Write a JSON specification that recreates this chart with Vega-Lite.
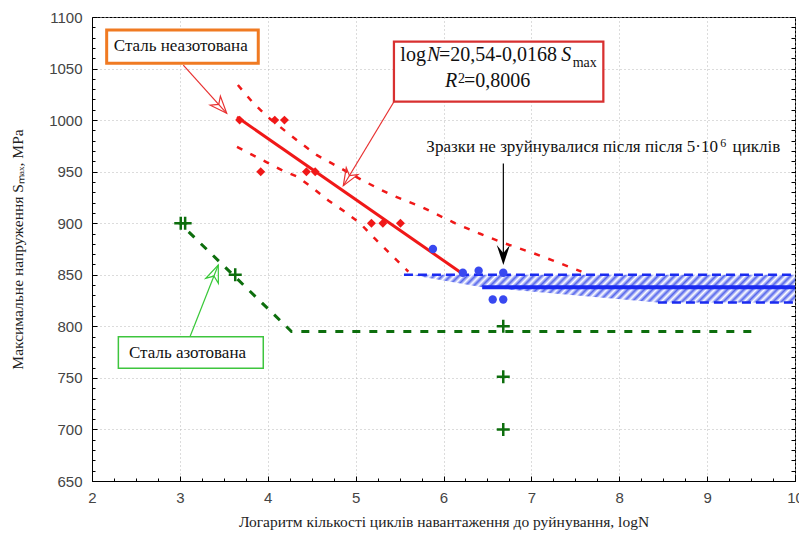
{
  "$schema": "https://vega.github.io/schema/vega-lite/v6.json",
  "width": 703,
  "height": 464,
  "autosize": {"type": "none"},
  "padding": {"left": 92, "top": 17, "right": 4, "bottom": 52},
  "background": "white",
  "config": {
    "view": {"stroke": "#000000", "strokeWidth": 1},
    "axis": {"domainColor": "#000000", "tickColor": "#000000", "labelFont": "Liberation Sans", "labelFontSize": 15, "labelColor": "#444444"}
  },
  "datasets": {
    "band": [
      {"logN": 5.62, "top": 850, "bottom": 850},
      {"logN": 6.44, "top": 850, "bottom": 838},
      {"logN": 8.44, "top": 850, "bottom": 823},
      {"logN": 10, "top": 850, "bottom": 823}
    ],
    "lines": [
      {"series": "fit", "ord": 1, "logN": 3.65, "S": 1003},
      {"series": "fit", "ord": 2, "logN": 6.2, "S": 852},
      {"series": "upper", "ord": 1, "logN": 3.66, "S": 1034},
      {"series": "upper", "ord": 2, "logN": 3.83, "S": 1017},
      {"series": "upper", "ord": 3, "logN": 4.0, "S": 1003},
      {"series": "upper", "ord": 4, "logN": 4.22, "S": 988},
      {"series": "upper", "ord": 5, "logN": 4.37, "S": 978},
      {"series": "upper", "ord": 6, "logN": 4.56, "S": 966},
      {"series": "upper", "ord": 7, "logN": 4.73, "S": 958},
      {"series": "upper", "ord": 8, "logN": 5.07, "S": 942},
      {"series": "upper", "ord": 9, "logN": 5.25, "S": 934},
      {"series": "upper", "ord": 10, "logN": 5.42, "S": 927},
      {"series": "upper", "ord": 11, "logN": 5.77, "S": 915},
      {"series": "upper", "ord": 12, "logN": 6.13, "S": 900},
      {"series": "upper", "ord": 13, "logN": 6.41, "S": 890},
      {"series": "upper", "ord": 14, "logN": 6.68, "S": 881},
      {"series": "upper", "ord": 15, "logN": 7.02, "S": 871},
      {"series": "upper", "ord": 16, "logN": 7.24, "S": 864},
      {"series": "upper", "ord": 17, "logN": 7.57, "S": 853},
      {"series": "lower", "ord": 1, "logN": 3.65, "S": 974},
      {"series": "lower", "ord": 2, "logN": 3.83, "S": 966},
      {"series": "lower", "ord": 3, "logN": 3.99, "S": 959},
      {"series": "lower", "ord": 4, "logN": 4.17, "S": 951},
      {"series": "lower", "ord": 5, "logN": 4.34, "S": 945},
      {"series": "lower", "ord": 6, "logN": 4.5, "S": 935},
      {"series": "lower", "ord": 7, "logN": 4.69, "S": 922},
      {"series": "lower", "ord": 8, "logN": 4.88, "S": 911},
      {"series": "lower", "ord": 9, "logN": 5.05, "S": 900},
      {"series": "lower", "ord": 10, "logN": 5.22, "S": 885},
      {"series": "lower", "ord": 11, "logN": 5.41, "S": 869},
      {"series": "lower", "ord": 12, "logN": 5.6, "S": 853},
      {"series": "green", "ord": 1, "logN": 3.1, "S": 891.6},
      {"series": "green", "ord": 2, "logN": 4.27, "S": 795},
      {"series": "green", "ord": 3, "logN": 9.55, "S": 795},
      {"series": "blue_upper", "ord": 1, "logN": 5.55, "S": 850},
      {"series": "blue_upper", "ord": 2, "logN": 10, "S": 850},
      {"series": "blue_lower", "ord": 1, "logN": 8.44, "S": 823},
      {"series": "blue_lower", "ord": 2, "logN": 10, "S": 823},
      {"series": "blue_mid", "ord": 1, "logN": 6.44, "S": 838},
      {"series": "blue_mid", "ord": 2, "logN": 10, "S": 838}
    ],
    "red_pts": [
      {"logN": 3.68, "S": 1000}, {"logN": 4.08, "S": 1000}, {"logN": 4.19, "S": 1000},
      {"logN": 3.92, "S": 950}, {"logN": 4.44, "S": 950}, {"logN": 4.54, "S": 950},
      {"logN": 5.18, "S": 900}, {"logN": 5.31, "S": 900}, {"logN": 5.51, "S": 900}
    ],
    "blue_pts": [
      {"logN": 5.88, "S": 875}, {"logN": 6.22, "S": 852}, {"logN": 6.4, "S": 854},
      {"logN": 6.68, "S": 852}, {"logN": 6.56, "S": 826}, {"logN": 6.68, "S": 826}
    ],
    "green_pts": [
      {"logN": 3.01, "S": 900}, {"logN": 3.06, "S": 900}, {"logN": 3.63, "S": 850},
      {"logN": 6.68, "S": 800}, {"logN": 6.68, "S": 751}, {"logN": 6.68, "S": 700}
    ],
    "arrows": [
      {"series": "red1", "ord": 1, "logN": 3.039, "S": 1053.4},
      {"series": "red1", "ord": 2, "logN": 3.533, "S": 1006.6},
      {"series": "red2", "ord": 1, "logN": 5.448, "S": 1019.5},
      {"series": "red2", "ord": 2, "logN": 4.86, "S": 936.4},
      {"series": "green", "ord": 1, "logN": 3.115, "S": 789.9},
      {"series": "green", "ord": 2, "logN": 3.437, "S": 859.5},
      {"series": "black", "ord": 1, "logN": 6.681, "S": 958},
      {"series": "black", "ord": 2, "logN": 6.681, "S": 870}
    ],
    "boxes": [
      {"box": "orange", "logN": 2.167, "logN2": 3.892, "S": 1087.4, "S2": 1055.1},
      {"box": "eq", "logN": 5.436, "logN2": 7.819, "S": 1076, "S2": 1017.9},
      {"box": "green", "logN": 2.3, "logN2": 3.949, "S": 789.9, "S2": 759.3}
    ]
  },
  "layer": [
    {
      "layer": [
        {
          "data": {"name": "band"},
          "mark": {
            "type": "area",
            "fill": {
              "gradient": "linear", "x1": 0, "y1": 0, "x2": 1.0722, "y2": 0.0774,
              "stops": [
                {"offset": 0.00, "color": "#5566ec"}, {"offset": 0.01, "color": "#ffffff"},
                {"offset": 0.02, "color": "#5566ec"}, {"offset": 0.03, "color": "#ffffff"},
                {"offset": 0.04, "color": "#5566ec"}, {"offset": 0.05, "color": "#ffffff"},
                {"offset": 0.06, "color": "#5566ec"}, {"offset": 0.07, "color": "#ffffff"},
                {"offset": 0.08, "color": "#5566ec"}, {"offset": 0.09, "color": "#ffffff"},
                {"offset": 0.10, "color": "#5566ec"}, {"offset": 0.11, "color": "#ffffff"},
                {"offset": 0.12, "color": "#5566ec"}, {"offset": 0.13, "color": "#ffffff"},
                {"offset": 0.14, "color": "#5566ec"}, {"offset": 0.15, "color": "#ffffff"},
                {"offset": 0.16, "color": "#5566ec"}, {"offset": 0.17, "color": "#ffffff"},
                {"offset": 0.18, "color": "#5566ec"}, {"offset": 0.19, "color": "#ffffff"},
                {"offset": 0.20, "color": "#5566ec"}, {"offset": 0.21, "color": "#ffffff"},
                {"offset": 0.22, "color": "#5566ec"}, {"offset": 0.23, "color": "#ffffff"},
                {"offset": 0.24, "color": "#5566ec"}, {"offset": 0.25, "color": "#ffffff"},
                {"offset": 0.26, "color": "#5566ec"}, {"offset": 0.27, "color": "#ffffff"},
                {"offset": 0.28, "color": "#5566ec"}, {"offset": 0.29, "color": "#ffffff"},
                {"offset": 0.30, "color": "#5566ec"}, {"offset": 0.31, "color": "#ffffff"},
                {"offset": 0.32, "color": "#5566ec"}, {"offset": 0.33, "color": "#ffffff"},
                {"offset": 0.34, "color": "#5566ec"}, {"offset": 0.35, "color": "#ffffff"},
                {"offset": 0.36, "color": "#5566ec"}, {"offset": 0.37, "color": "#ffffff"},
                {"offset": 0.38, "color": "#5566ec"}, {"offset": 0.39, "color": "#ffffff"},
                {"offset": 0.40, "color": "#5566ec"}, {"offset": 0.41, "color": "#ffffff"},
                {"offset": 0.42, "color": "#5566ec"}, {"offset": 0.43, "color": "#ffffff"},
                {"offset": 0.44, "color": "#5566ec"}, {"offset": 0.45, "color": "#ffffff"},
                {"offset": 0.46, "color": "#5566ec"}, {"offset": 0.47, "color": "#ffffff"},
                {"offset": 0.48, "color": "#5566ec"}, {"offset": 0.49, "color": "#ffffff"},
                {"offset": 0.50, "color": "#5566ec"}, {"offset": 0.51, "color": "#ffffff"},
                {"offset": 0.52, "color": "#5566ec"}, {"offset": 0.53, "color": "#ffffff"},
                {"offset": 0.54, "color": "#5566ec"}, {"offset": 0.55, "color": "#ffffff"},
                {"offset": 0.56, "color": "#5566ec"}, {"offset": 0.57, "color": "#ffffff"},
                {"offset": 0.58, "color": "#5566ec"}, {"offset": 0.59, "color": "#ffffff"},
                {"offset": 0.60, "color": "#5566ec"}, {"offset": 0.61, "color": "#ffffff"},
                {"offset": 0.62, "color": "#5566ec"}, {"offset": 0.63, "color": "#ffffff"},
                {"offset": 0.64, "color": "#5566ec"}, {"offset": 0.65, "color": "#ffffff"},
                {"offset": 0.66, "color": "#5566ec"}, {"offset": 0.67, "color": "#ffffff"},
                {"offset": 0.68, "color": "#5566ec"}, {"offset": 0.69, "color": "#ffffff"},
                {"offset": 0.70, "color": "#5566ec"}, {"offset": 0.71, "color": "#ffffff"},
                {"offset": 0.72, "color": "#5566ec"}, {"offset": 0.73, "color": "#ffffff"},
                {"offset": 0.74, "color": "#5566ec"}, {"offset": 0.75, "color": "#ffffff"},
                {"offset": 0.76, "color": "#5566ec"}, {"offset": 0.77, "color": "#ffffff"},
                {"offset": 0.78, "color": "#5566ec"}, {"offset": 0.79, "color": "#ffffff"},
                {"offset": 0.80, "color": "#5566ec"}, {"offset": 0.81, "color": "#ffffff"},
                {"offset": 0.82, "color": "#5566ec"}, {"offset": 0.83, "color": "#ffffff"},
                {"offset": 0.84, "color": "#5566ec"}, {"offset": 0.85, "color": "#ffffff"},
                {"offset": 0.86, "color": "#5566ec"}, {"offset": 0.87, "color": "#ffffff"},
                {"offset": 0.88, "color": "#5566ec"}, {"offset": 0.89, "color": "#ffffff"},
                {"offset": 0.90, "color": "#5566ec"}, {"offset": 0.91, "color": "#ffffff"},
                {"offset": 0.92, "color": "#5566ec"}, {"offset": 0.93, "color": "#ffffff"},
                {"offset": 0.94, "color": "#5566ec"}, {"offset": 0.95, "color": "#ffffff"},
                {"offset": 0.96, "color": "#5566ec"}, {"offset": 0.97, "color": "#ffffff"},
                {"offset": 0.98, "color": "#5566ec"}, {"offset": 0.99, "color": "#ffffff"},
                {"offset": 1.00, "color": "#5566ec"}
              ]
            }
          },
          "encoding": {
            "x": {
              "field": "logN", "type": "quantitative",
              "scale": {"domain": [2, 10], "nice": false, "zero": false},
              "axis": {
                "orient": "bottom",
                "title": "Логаритм кількості циклів навантаження до руйнування, logN",
                "titleFont": "Liberation Serif", "titleFontSize": 15.5, "titleFontWeight": "normal", "titleColor": "#222222",
                "values": [2,2.25,2.5,2.75,3,3.25,3.5,3.75,4,4.25,4.5,4.75,5,5.25,5.5,5.75,6,6.25,6.5,6.75,7,7.25,7.5,7.75,8,8.25,8.5,8.75,9,9.25,9.5,9.75,10],
                "tickCount": 1000,
                "labelExpr": "datum.value % 1 === 0 ? format(datum.value, 'd') : ''",
                "labelOverlap": false, "labelFlush": false, "labelPadding": 14,
                "grid": true, "gridColor": "#b8b8b8", "gridDash": [1, 3],
                "gridOpacity": {"condition": {"test": "datum.value % 1 === 0", "value": 1}, "value": 0},
                "tickSize": {"condition": {"test": "datum.value % 1 === 0", "value": -5}, "value": -3},
                "titlePadding": 7
              }
            },
            "y": {
              "field": "top", "type": "quantitative",
              "scale": {"domain": [650, 1100], "nice": false, "zero": false},
              "axis": {
                "orient": "left",
                "title": "Максимальне напруження Sₘₐₓ, MPa",
                "titleFont": "Liberation Serif", "titleFontSize": 15.5, "titleFontWeight": "normal", "titleColor": "#222222",
                "values": [650,660,670,680,690,700,710,720,730,740,750,760,770,780,790,800,810,820,830,840,850,860,870,880,890,900,910,920,930,940,950,960,970,980,990,1000,1010,1020,1030,1040,1050,1060,1070,1080,1090,1100],
                "tickCount": 1000,
                "labelExpr": "datum.value % 50 === 0 ? format(datum.value, 'd') : ''",
                "labelOverlap": false, "labelFlush": false, "labelPadding": 15,
                "grid": true, "gridColor": "#b8b8b8", "gridDash": [1, 3],
                "gridOpacity": {"condition": {"test": "datum.value % 50 === 0", "value": 1}, "value": 0},
                "tickSize": {"condition": {"test": "datum.value % 50 === 0", "value": -5}, "value": -3},
                "titlePadding": 23
              }
            },
            "y2": {"field": "bottom"}
          }
        },
        {
          "data": {"name": "lines"},
          "transform": [{"filter": "datum.series === 'fit'"}],
          "mark": {"type": "line", "color": "#f01818", "strokeWidth": 3},
          "encoding": {
            "x": {"field": "logN", "type": "quantitative"},
            "y": {"field": "S", "type": "quantitative"},
            "order": {"field": "ord"}
          }
        },
        {
          "data": {"name": "lines"},
          "transform": [{"filter": "datum.series === 'upper' || datum.series === 'lower'"}],
          "mark": {"type": "line", "color": "#f01818", "strokeWidth": 2.5, "strokeDash": [6, 9]},
          "encoding": {
            "x": {"field": "logN", "type": "quantitative"},
            "y": {"field": "S", "type": "quantitative"},
            "detail": {"field": "series"},
            "order": {"field": "ord"}
          }
        },
        {
          "data": {"name": "lines"},
          "transform": [{"filter": "datum.series === 'green'"}],
          "mark": {"type": "line", "color": "#0d6e0d", "strokeWidth": 3, "strokeDash": [8, 9]},
          "encoding": {
            "x": {"field": "logN", "type": "quantitative"},
            "y": {"field": "S", "type": "quantitative"},
            "order": {"field": "ord"}
          }
        },
        {
          "data": {"name": "lines"},
          "transform": [{"filter": "datum.series === 'blue_upper' || datum.series === 'blue_lower'"}],
          "mark": {"type": "line", "color": "#1a2af0", "strokeWidth": 2.5, "strokeDash": [9, 5]},
          "encoding": {
            "x": {"field": "logN", "type": "quantitative"},
            "y": {"field": "S", "type": "quantitative"},
            "detail": {"field": "series"},
            "order": {"field": "ord"}
          }
        },
        {
          "data": {"name": "lines"},
          "transform": [{"filter": "datum.series === 'blue_mid'"}],
          "mark": {"type": "line", "color": "#1a2af0", "strokeWidth": 4},
          "encoding": {
            "x": {"field": "logN", "type": "quantitative"},
            "y": {"field": "S", "type": "quantitative"},
            "order": {"field": "ord"}
          }
        },
        {
          "data": {"name": "red_pts"},
          "mark": {"type": "point", "shape": "diamond", "filled": true, "color": "#f01818", "size": 80, "opacity": 1},
          "encoding": {
            "x": {"field": "logN", "type": "quantitative"},
            "y": {"field": "S", "type": "quantitative"}
          }
        },
        {
          "data": {"name": "blue_pts"},
          "mark": {"type": "point", "shape": "circle", "filled": true, "color": "#3848f0", "size": 70, "opacity": 1},
          "encoding": {
            "x": {"field": "logN", "type": "quantitative"},
            "y": {"field": "S", "type": "quantitative"}
          }
        },
        {
          "data": {"name": "green_pts"},
          "mark": {"type": "point", "shape": "M-1,0L1,0M0,-1L0,1", "filled": false, "stroke": "#0d6e0d", "strokeWidth": 2.5, "size": 169, "opacity": 1},
          "encoding": {
            "x": {"field": "logN", "type": "quantitative"},
            "y": {"field": "S", "type": "quantitative"}
          }
        },
        {
          "data": {"name": "arrows"},
          "mark": {"type": "line", "strokeWidth": 1.2},
          "encoding": {
            "x": {"field": "logN", "type": "quantitative"},
            "y": {"field": "S", "type": "quantitative"},
            "detail": {"field": "series"},
            "order": {"field": "ord"},
            "color": {"field": "series", "type": "nominal", "scale": {"domain": ["red1", "red2", "green", "black"], "range": ["#e83030", "#e83030", "#38c838", "#000000"]}, "legend": null}
          }
        },
        {
          "data": {"values": [{"logN": 3.533, "S": 1006.6}]},
          "mark": {"type": "point", "shape": "M0,0L0.4,1L0,0.7L-0.4,1Z", "size": 1156, "angle": 138, "filled": false, "stroke": "#e83030", "strokeWidth": 1.2, "opacity": 1},
          "encoding": {"x": {"field": "logN", "type": "quantitative"}, "y": {"field": "S", "type": "quantitative"}}
        },
        {
          "data": {"values": [{"logN": 4.86, "S": 936.4}]},
          "mark": {"type": "point", "shape": "M0,0L0.4,1L0,0.7L-0.4,1Z", "size": 1156, "angle": 211, "filled": false, "stroke": "#e83030", "strokeWidth": 1.2, "opacity": 1},
          "encoding": {"x": {"field": "logN", "type": "quantitative"}, "y": {"field": "S", "type": "quantitative"}}
        },
        {
          "data": {"values": [{"logN": 3.437, "S": 859.5}]},
          "mark": {"type": "point", "shape": "M0,0L0.4,1L0,0.7L-0.4,1Z", "size": 1156, "angle": 21.5, "filled": false, "stroke": "#38c838", "strokeWidth": 1.2, "opacity": 1},
          "encoding": {"x": {"field": "logN", "type": "quantitative"}, "y": {"field": "S", "type": "quantitative"}}
        },
        {
          "data": {"values": [{"logN": 6.681, "S": 859.5}]},
          "mark": {"type": "point", "shape": "M0,0L0.33,1L0,0.6L-0.33,1Z", "size": 1600, "angle": 180, "filled": true, "color": "#000000", "opacity": 1},
          "encoding": {"x": {"field": "logN", "type": "quantitative"}, "y": {"field": "S", "type": "quantitative"}}
        },
        {
          "data": {"name": "boxes"},
          "mark": {"type": "rect", "fill": "#ffffff"},
          "encoding": {
            "x": {"field": "logN", "type": "quantitative"},
            "x2": {"field": "logN2"},
            "y": {"field": "S", "type": "quantitative"},
            "y2": {"field": "S2"},
            "stroke": {"field": "box", "type": "nominal", "scale": {"domain": ["orange", "eq", "green"], "range": ["#f07a22", "#d83030", "#3ec53e"]}, "legend": null},
            "strokeWidth": {"field": "box", "type": "nominal", "scale": {"domain": ["orange", "eq", "green"], "range": [3, 1.5, 3]}, "legend": null}
          }
        },
        {
          "data": {"values": [
            {"logN": 3.01, "S": 1071.6, "label": "Сталь неазотована"},
            {"logN": 3.087, "S": 774.1, "label": "Сталь азотована"}
          ]},
          "mark": {"type": "text", "font": "Liberation Serif", "fontSize": 17, "color": "#111111", "align": "center", "baseline": "middle"},
          "encoding": {"x": {"field": "logN", "type": "quantitative"}, "y": {"field": "S", "type": "quantitative"}, "text": {"field": "label"}}
        },
        {
          "data": {"values": [{"logN": 5.8, "S": 1057.6, "label": "log"}]},
          "mark": {"type": "text", "font": "Liberation Serif", "fontSize": 20, "color": "#111111", "align": "right", "baseline": "alphabetic"},
          "encoding": {"x": {"field": "logN", "type": "quantitative"}, "y": {"field": "S", "type": "quantitative"}, "text": {"field": "label"}}
        },
        {
          "data": {"values": [
            {"logN": 5.949, "S": 1057.6, "label": "=20,54-0,0168"},
            {"logN": 6.233, "S": 1032.4, "label": "=0,8006"}
          ]},
          "mark": {"type": "text", "font": "Liberation Serif", "fontSize": 20, "color": "#111111", "align": "left", "baseline": "alphabetic"},
          "encoding": {"x": {"field": "logN", "type": "quantitative"}, "y": {"field": "S", "type": "quantitative"}, "text": {"field": "label"}}
        },
        {
          "data": {"values": [
            {"logN": 5.812, "S": 1057.6, "label": "N"},
            {"logN": 7.34, "S": 1057.6, "label": "S"},
            {"logN": 6.017, "S": 1032.4, "label": "R"}
          ]},
          "mark": {"type": "text", "font": "Liberation Serif", "fontSize": 20, "fontStyle": "italic", "color": "#111111", "align": "left", "baseline": "alphabetic"},
          "encoding": {"x": {"field": "logN", "type": "quantitative"}, "y": {"field": "S", "type": "quantitative"}, "text": {"field": "label"}}
        },
        {
          "data": {"values": [
            {"logN": 7.47, "S": 1051.8, "label": "max"},
            {"logN": 6.165, "S": 1035.7, "label": "2"}
          ]},
          "mark": {"type": "text", "font": "Liberation Serif", "fontSize": 14, "color": "#111111", "align": "left", "baseline": "alphabetic"},
          "encoding": {"x": {"field": "logN", "type": "quantitative"}, "y": {"field": "S", "type": "quantitative"}, "text": {"field": "label"}}
        },
        {
          "data": {"values": [{"logN": 9.124, "S": 969.4, "label": "Зразки не зруйнувалися після після 5·10"}]},
          "mark": {"type": "text", "font": "Liberation Serif", "fontSize": 17, "color": "#111111", "align": "right", "baseline": "alphabetic"},
          "encoding": {"x": {"field": "logN", "type": "quantitative"}, "y": {"field": "S", "type": "quantitative"}, "text": {"field": "label"}}
        },
        {
          "data": {"values": [{"logN": 9.29, "S": 969.4, "label": "циклів"}]},
          "mark": {"type": "text", "font": "Liberation Serif", "fontSize": 17, "color": "#111111", "align": "left", "baseline": "alphabetic"},
          "encoding": {"x": {"field": "logN", "type": "quantitative"}, "y": {"field": "S", "type": "quantitative"}, "text": {"field": "label"}}
        },
        {
          "data": {"values": [{"logN": 9.15, "S": 974.2, "label": "6"}]},
          "mark": {"type": "text", "font": "Liberation Serif", "fontSize": 12, "color": "#111111", "align": "left", "baseline": "alphabetic"},
          "encoding": {"x": {"field": "logN", "type": "quantitative"}, "y": {"field": "S", "type": "quantitative"}, "text": {"field": "label"}}
        }
      ]
    },
    {
      "data": {"values": [{"logN": 5, "S": 800}]},
      "mark": {"type": "point", "opacity": 0},
      "encoding": {
        "x": {"field": "logN", "type": "quantitative", "axis": null},
        "y": {
          "field": "S", "type": "quantitative",
          "axis": {
            "orient": "right", "title": null, "labels": false, "grid": false, "domain": false,
            "values": [650,660,670,680,690,700,710,720,730,740,750,760,770,780,790,800,810,820,830,840,850,860,870,880,890,900,910,920,930,940,950,960,970,980,990,1000,1010,1020,1030,1040,1050,1060,1070,1080,1090,1100],
            "tickCount": 1000,
            "tickSize": -4
          }
        }
      }
    }
  ],
  "resolve": {"axis": {"x": "independent", "y": "independent"}}
}
